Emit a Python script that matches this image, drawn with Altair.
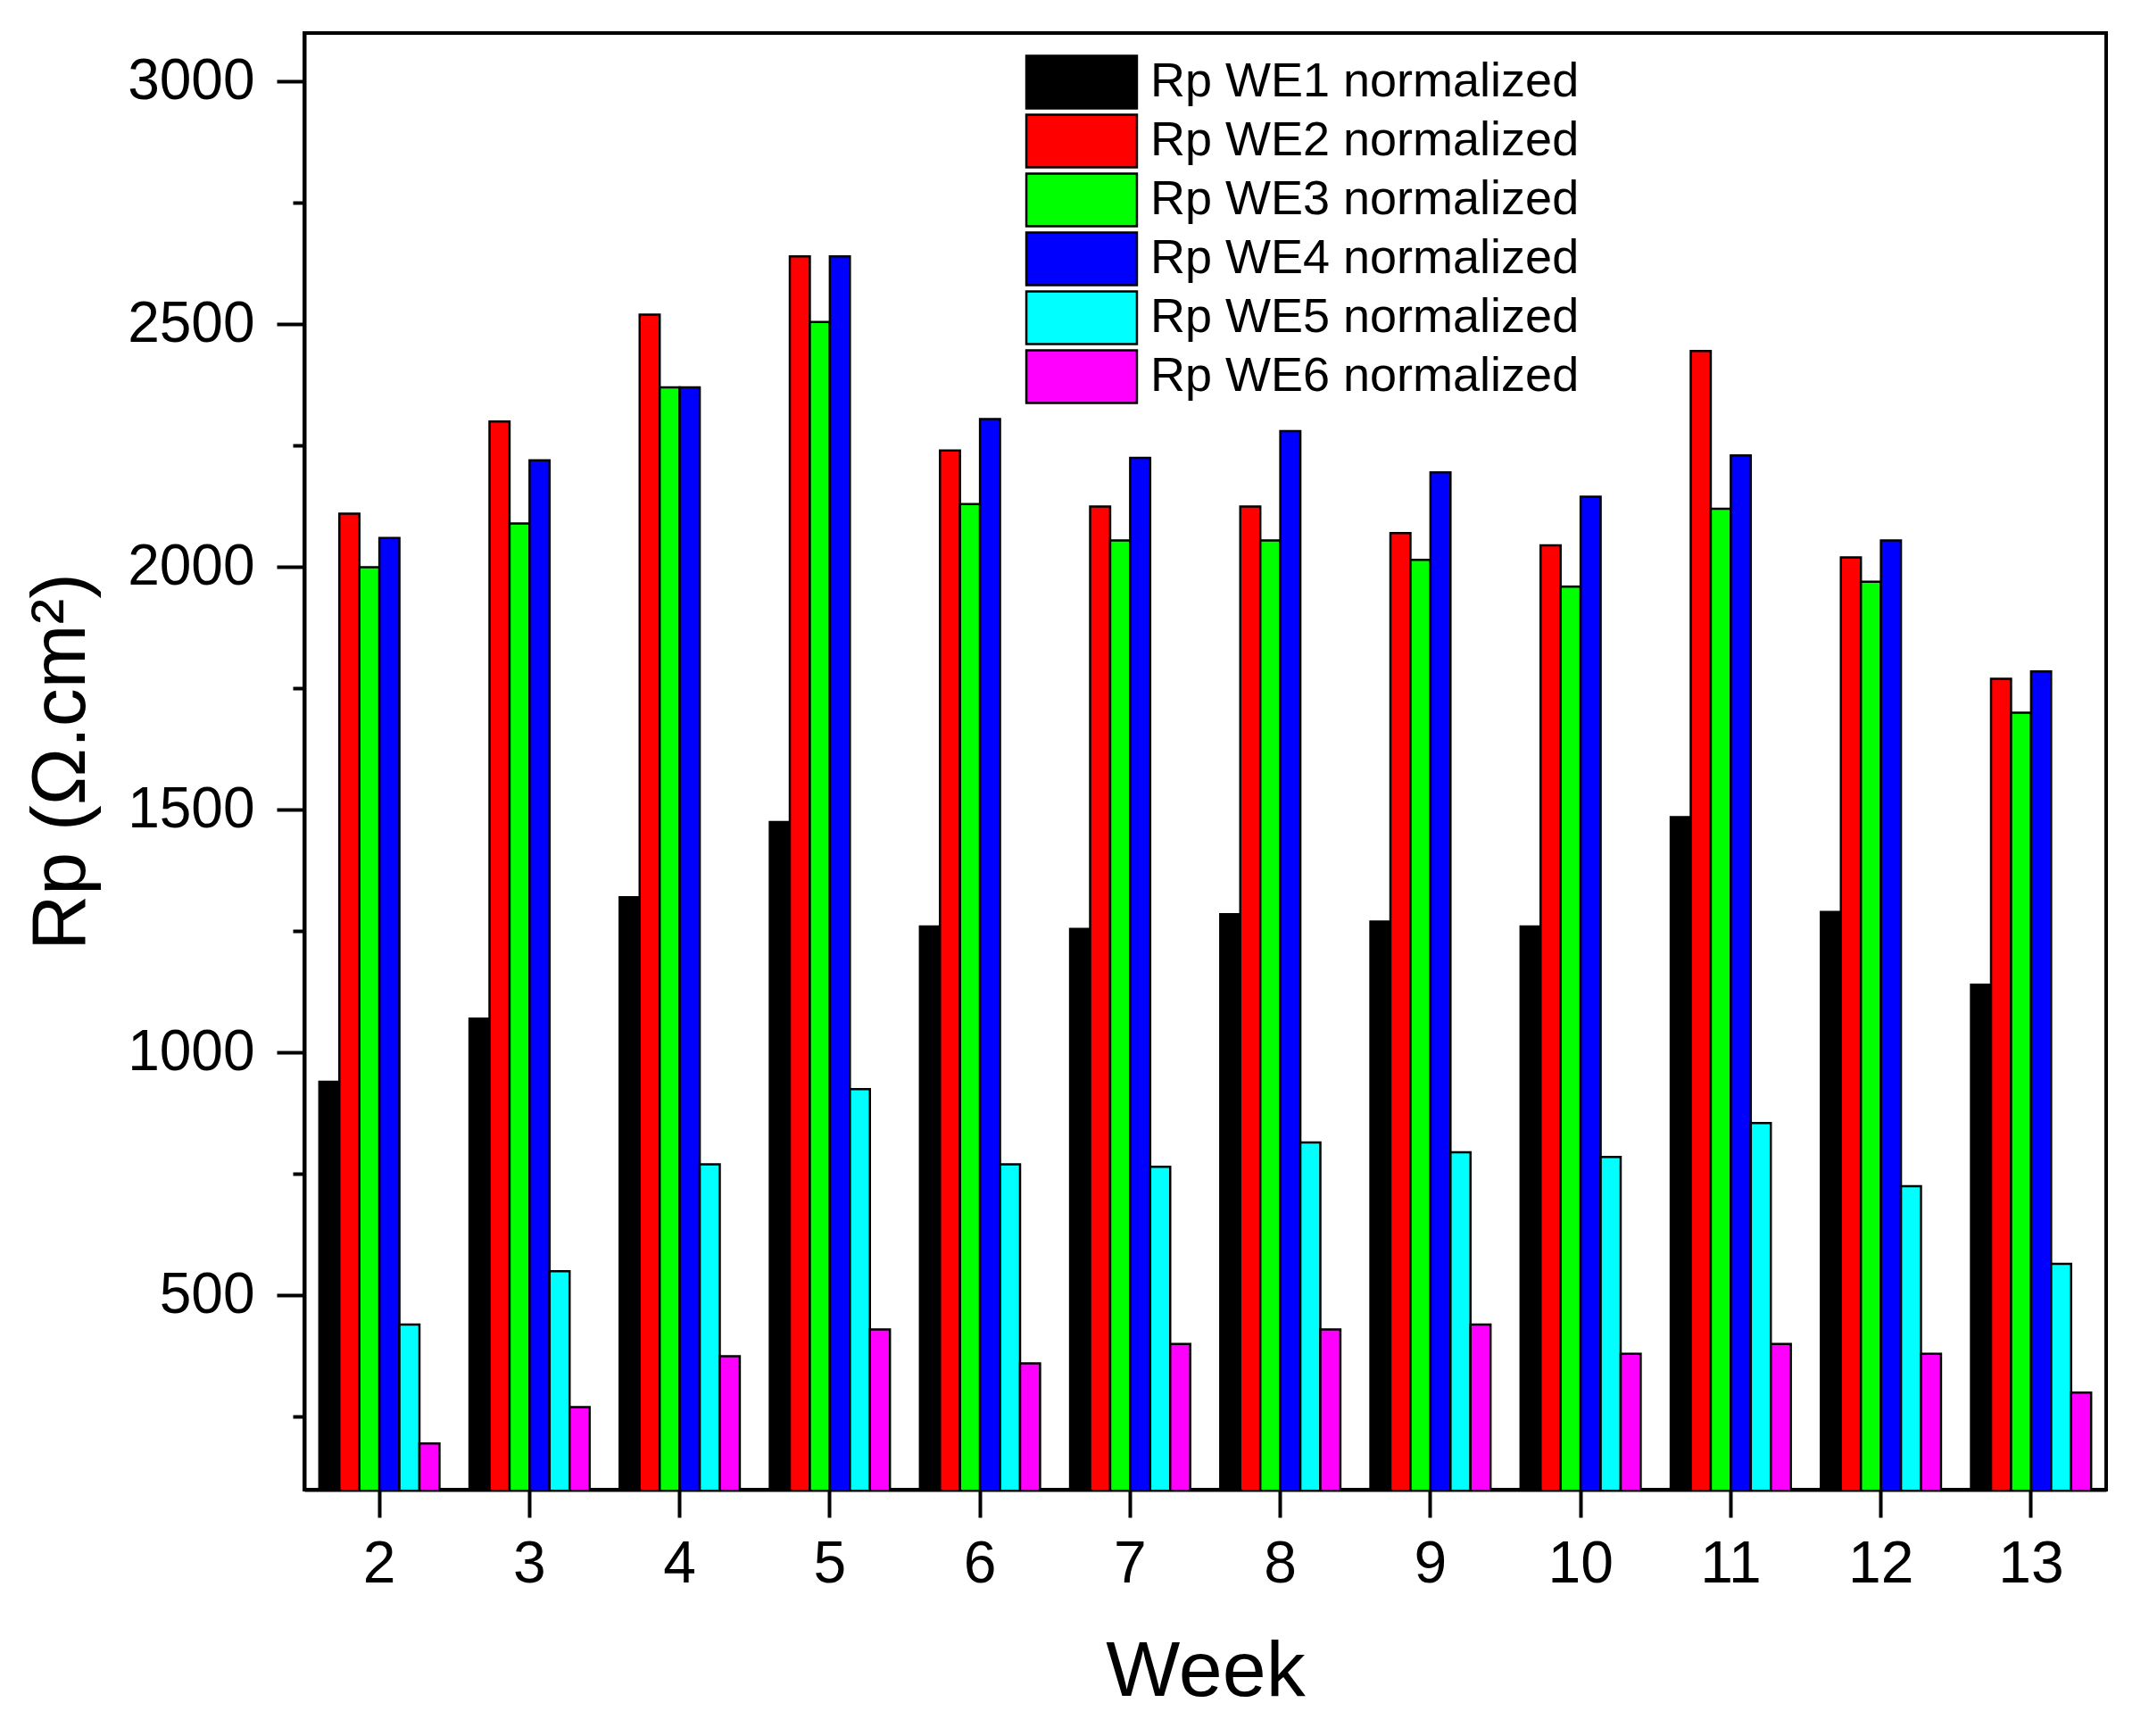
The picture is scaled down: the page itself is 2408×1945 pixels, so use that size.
import altair as alt
import pandas as pd

weeks = [2, 3, 4, 5, 6, 7, 8, 9, 10, 11, 12, 13]
series = [
    "Rp WE1 normalized",
    "Rp WE2 normalized",
    "Rp WE3 normalized",
    "Rp WE4 normalized",
    "Rp WE5 normalized",
    "Rp WE6 normalized",
]
we1 = [940, 1070, 1320, 1475, 1260, 1255, 1285, 1270, 1260, 1485, 1290, 1140]
we2 = [2110, 2300, 2520, 2640, 2240, 2125, 2125, 2070, 2045, 2445, 2020, 1770]
we3 = [2000, 2090, 2370, 2505, 2130, 2055, 2055, 2015, 1960, 2120, 1970, 1700]
we4 = [2060, 2220, 2370, 2640, 2305, 2225, 2280, 2195, 2145, 2230, 2055, 1785]
we5 = [440, 550, 770, 925, 770, 765, 815, 795, 785, 855, 725, 565]
we6 = [195, 270, 375, 430, 360, 400, 430, 440, 380, 400, 380, 300]
colors = ["#000000", "#FF0000", "#00FF00", "#0000FF", "#00FFFF", "#FF00FF"]
y_ticks = [250, 500, 750, 1000, 1250, 1500, 1750, 2000, 2250, 2500, 2750, 3000]

rows = []
for name, vals in zip(series, [we1, we2, we3, we4, we5, we6]):
    for w, v in zip(weeks, vals):
        rows.append({"Week": w, "Series": name, "Rp": v})
df = pd.DataFrame(rows)

font = "Liberation Sans, Arial, sans-serif"

bars = alt.Chart(df).mark_bar(stroke="black", strokeWidth=2.5, clip=True).encode(
    x=alt.X("Week:O", title="Week",
            scale=alt.Scale(paddingInner=0.2, paddingOuter=0.1),
            axis=alt.Axis(labelAngle=0, tickSize=31, labelPadding=20,
                          labelFontSize=66, titleFontSize=88, titlePadding=44)),
    xOffset=alt.XOffset("Series:N", sort=series),
    y=alt.Y("Rp:Q", title="Rp (Ω.cm²)",
            scale=alt.Scale(domain=[100, 3100], zero=False, nice=False),
            axis=alt.Axis(values=y_ticks, format="d",
                          labelExpr="datum.value % 500 === 0 ? datum.label : ''",
                          tickSize={"condition": {"test": "datum.value % 500 === 0", "value": 31}, "value": 13},
                          labelPadding=25, labelFontSize=64,
                          titleFontSize=86, titlePadding=30)),
    color=alt.Color("Series:N", sort=series,
                    scale=alt.Scale(domain=series, range=colors),
                    legend=alt.Legend(title=None, orient="none", legendX=840, legendY=24,
                                      symbolType="M-2.1,-1H2.1V1H-2.1Z", symbolSize=3481,
                                      symbolStrokeColor="black", symbolStrokeWidth=2.5,
                                      symbolOpacity=1, labelFont="Liberation Sans Narrow, Liberation Sans, Arial",
                                      labelFontSize=54, labelOffset=46, labelLimit=0,
                                      rowPadding=-4, padding=0, labelColor="black")),
)

chart = bars.properties(
    width=2019,
    height=1632,
    autosize=alt.AutoSizeParams(type="none"),
    padding={"left": 333, "top": 29, "right": 40, "bottom": 268},
    background="white",
).configure_view(
    stroke="black", strokeWidth=4
).configure_axis(
    domainColor="black", domainWidth=4, tickColor="black", tickWidth=4,
    labelColor="black", titleColor="black", labelFont=font, titleFont=font,
    titleFontWeight="normal", grid=False,
)

chart.save("out.html", embed_options={"renderer": "svg", "actions": False})
